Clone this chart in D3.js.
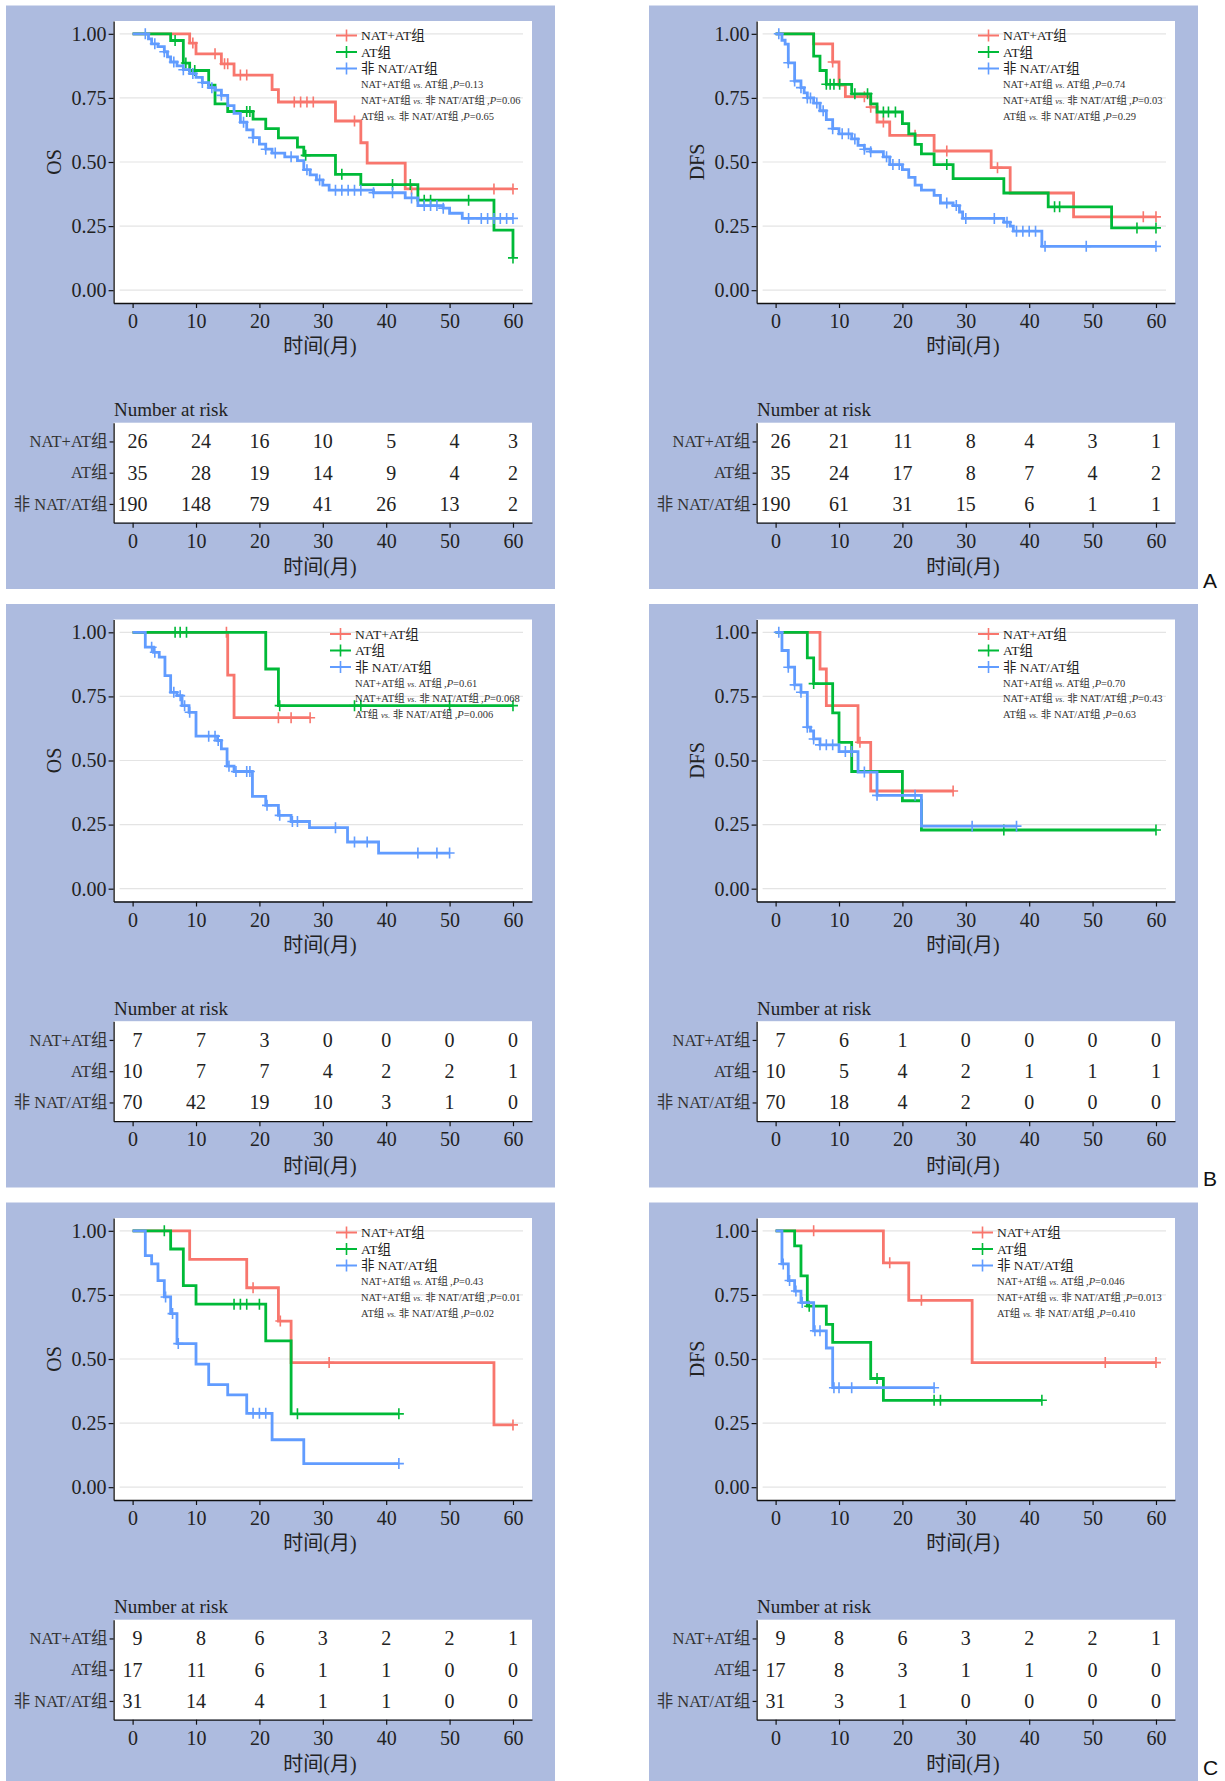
<!DOCTYPE html>
<html>
<head>
<meta charset="utf-8">
<title>OS / DFS Kaplan-Meier curves</title>
<style>
  body{ margin:0; background:#fff; }
  svg text{ font-family:"Liberation Serif","Noto Sans CJK SC",serif; }
</style>
</head>
<body>
<div id="chart"></div>
<script src="https://d3js.org/d3.v7.min.js"></script>
<script>
// ---- shared labels / ticks ----
var groups = ["NAT+AT组", "AT组", "非 NAT/AT组"];
var timeTicks = [0, 10, 20, 30, 40, 50, 60];
var survTicks = [0, 0.25, 0.5, 0.75, 1];
var comparisons = [[0, 1], [0, 2], [1, 2]];
var panelLetters = ["A", "B", "C"];

// ---- A : OS  (steps are [month, survival], cens are censor months) ----
var aOsNat = [[0,1],[9,0.964],[10,0.922],[14,0.883],[16,0.839],[22,0.782],[23,0.734],[32,0.66],[36,0.575],[37,0.496],[43,0.395]];
var aOsNatCens = [9.5,13,14.5,15,17,18,25.5,26.5,27.5,28.5,35,44,57,60];
var aOsAt = [[0,1],[6,0.974],[8,0.886],[9,0.857],[12,0.80],[13,0.727],[15,0.697],[19,0.667],[21,0.63],[23,0.594],[26,0.558],[27,0.526],[32,0.452],[36,0.412],[45,0.351],[57,0.234],[60,0.126]];
var aOsAtCens = [6.7,8.4,9.8,18,18.5,27.3,33,41,43.8,46,47,53,60];
var aOsNon = [[0,1],[2.5,0.98],[3,0.961],[4,0.95],[5,0.93],[5.5,0.91],[6,0.89],[7,0.875],[8,0.86],[9,0.845],[10,0.83],[11,0.81],[12,0.79],[13,0.78],[14,0.76],[15,0.72],[16,0.69],[17,0.655],[18,0.625],[19,0.595],[20,0.57],[21,0.55],[22,0.535],[24,0.52],[26,0.505],[27,0.47],[28,0.45],[29,0.43],[30,0.41],[31,0.39],[38,0.38],[43,0.36],[45,0.33],[49,0.32],[50,0.30],[52,0.28]];
var aOsNonCens = [2,3.5,5,6.5,8,9.5,11,12.5,14,17.5,19,21,22.5,25,27.5,29.5,32,33,34,35,36,38,41,44,46,47,48,49,53,55,56,57,58,59,60];
var aOsRisk = [[26,24,16,10,5,4,3],[35,28,19,14,9,4,2],[190,148,79,41,26,13,2]];
var aOsP = ["0.13", "0.06", "0.65"];

// ---- A : DFS ----
var aDfsNat = [[0,1],[6,0.961],[9,0.89],[10,0.80],[11,0.755],[15,0.714],[16,0.656],[18,0.604],[25,0.543],[34,0.478],[37,0.379],[47,0.286]];
var aDfsNatCens = [9,14,15,17,22,27,35,53,58,60];
var aDfsAt = [[0,1],[6,0.913],[7,0.857],[8,0.803],[12,0.766],[15,0.727],[16,0.695],[20,0.65],[21,0.61],[22,0.569],[23,0.532],[25,0.49],[28,0.435],[36,0.379],[43,0.325],[53,0.243]];
var aDfsAtCens = [8,8.6,9.2,10.1,12.5,14.5,17,17.8,18.9,27,44,44.8,57,60];
var aDfsNon = [[0,1],[1,0.975],[1.5,0.96],[2,0.887],[3,0.816],[4,0.79],[4.5,0.77],[5,0.75],[6,0.73],[7,0.70],[8,0.665],[9,0.63],[10,0.61],[12,0.59],[13,0.565],[14,0.55],[15,0.54],[17,0.52],[18,0.49],[20,0.47],[21,0.44],[22,0.41],[23,0.39],[25,0.37],[26,0.34],[28,0.33],[29,0.305],[29.5,0.28],[36,0.265],[37,0.25],[37.5,0.23],[42,0.171]];
var aDfsNonCens = [0.5,2,3,4,5,5.5,6.5,7.5,9,10.5,11.5,12.5,14,15,17.5,18.5,19.5,27,28.5,30,34.5,36.5,38,39,40,41,42.5,49,60];
var aDfsRisk = [[26,21,11,8,4,3,1],[35,24,17,8,7,4,2],[190,61,31,15,6,1,1]];
var aDfsP = ["0.74", "0.03", "0.29"];

// ---- B : OS ----
var bOsNat = [[0,1],[15,0.833],[16,0.667]];
var bOsNatCens = [14.8,23,25,28];
var bOsAt = [[0,1],[21,0.857],[23,0.714]];
var bOsAtCens = [6.7,7.5,8.5,23.2,35,36,50,60];
var bOsNon = [[0,1],[2,0.942],[3.3,0.922],[4.2,0.903],[5.1,0.831],[6,0.766],[7,0.753],[7.8,0.714],[8.9,0.688],[10,0.595],[13.4,0.578],[14,0.545],[14.9,0.478],[16,0.457],[18.9,0.36],[21,0.325],[23,0.286],[25,0.262],[27.9,0.238],[33.9,0.182],[38.8,0.139]];
var bOsNonCens = [3,3.5,6.5,7.5,8.2,9,12,13,13.5,15.2,16.3,18,18.5,21.2,23.2,25.2,26,32,35,37,45,48,50];
var bOsRisk = [[7,7,3,0,0,0,0],[10,7,7,4,2,2,1],[70,42,19,10,3,1,0]];
var bOsP = ["0.61", "0.068", "0.006"];

// ---- B : DFS ----
var bDfsNat = [[0,1],[7,0.857],[8,0.714],[13,0.571],[15,0.381]];
var bDfsNatCens = [13.3,16,28];
var bDfsAt = [[0,1],[5,0.90],[6,0.80],[9,0.686],[10,0.571],[12,0.457],[20,0.343],[23,0.229]];
var bDfsAtCens = [6,36,60];
var bDfsNon = [[0,1],[1,0.929],[2,0.864],[3,0.795],[4,0.766],[5,0.63],[5.5,0.615],[6,0.584],[7,0.561],[10,0.535],[13,0.455],[16,0.364],[23,0.244]];
var bDfsNonCens = [0.5,2,3,4,5,6,7,8,9,11,12,14,16,22,31,38];
var bDfsRisk = [[7,6,1,0,0,0,0],[10,5,4,2,1,1,1],[70,18,4,2,0,0,0]];
var bDfsP = ["0.70", "0.43", "0.63"];

// ---- C : OS ----
var cOsNat = [[0,1],[9,0.889],[18,0.778],[23,0.648],[25,0.486],[57,0.243]];
var cOsNatCens = [19,23.3,31,60];
var cOsAt = [[0,1],[6,0.929],[8,0.786],[10,0.714],[21,0.571],[25,0.286]];
var cOsAtCens = [5,16,17,18,20,26,42];
var cOsNon = [[0,1],[2,0.903],[3,0.871],[4,0.806],[5,0.742],[6,0.677],[7,0.56],[10,0.48],[12,0.40],[15,0.36],[18,0.288],[22,0.185],[27,0.092]];
var cOsNonCens = [5.2,6.3,7.2,19,20,21,42];
var cOsRisk = [[9,8,6,3,2,2,1],[17,11,6,1,1,0,0],[31,14,4,1,1,0,0]];
var cOsP = ["0.43", "0.01", "0.02"];

// ---- C : DFS ----
var cDfsNat = [[0,1],[17,0.875],[21,0.729],[31,0.486]];
var cDfsNatCens = [6,18,23,52,60];
var cDfsAt = [[0,1],[3,0.941],[4,0.824],[5,0.706],[8,0.635],[9,0.565],[15,0.424],[17,0.339]];
var cDfsAtCens = [5.3,16,25,26,42];
var cDfsNon = [[0,1],[1,0.871],[2,0.806],[3,0.765],[4,0.72],[6,0.61],[8,0.543],[9,0.388]];
var cDfsNonCens = [1.2,2.2,3.2,4.2,6.2,7,9.2,10,12,25];
var cDfsRisk = [[9,8,6,3,2,2,1],[17,8,3,1,1,0,0],[31,3,1,0,0,0,0]];
var cDfsP = ["0.046", "0.013", "0.410"];

var panels = [
  {row:0, col:0, ylab:"OS",  curves:[aOsNat,aOsAt,aOsNon],    cens:[aOsNatCens,aOsAtCens,aOsNonCens],    risk:aOsRisk,  p:aOsP},
  {row:0, col:1, ylab:"DFS", curves:[aDfsNat,aDfsAt,aDfsNon], cens:[aDfsNatCens,aDfsAtCens,aDfsNonCens], risk:aDfsRisk, p:aDfsP},
  {row:1, col:0, ylab:"OS",  curves:[bOsNat,bOsAt,bOsNon],    cens:[bOsNatCens,bOsAtCens,bOsNonCens],    risk:bOsRisk,  p:bOsP},
  {row:1, col:1, ylab:"DFS", curves:[bDfsNat,bDfsAt,bDfsNon], cens:[bDfsNatCens,bDfsAtCens,bDfsNonCens], risk:bDfsRisk, p:bDfsP},
  {row:2, col:0, ylab:"OS",  curves:[cOsNat,cOsAt,cOsNon],    cens:[cOsNatCens,cOsAtCens,cOsNonCens],    risk:cOsRisk,  p:cOsP},
  {row:2, col:1, ylab:"DFS", curves:[cDfsNat,cDfsAt,cDfsNon], cens:[cDfsNatCens,cDfsAtCens,cDfsNonCens], risk:cDfsRisk, p:cDfsP}
];

// ---- layout ----
var colors = ["#F8766D", "#00BA38", "#619CFF"];
var bgColor = "#adbbdf";
var rowY = [0, 598.5, 1197];
var colX = [0, 643];
var letterY = [588, 1186, 1775];
var legendX = [336, 335, 330, 335, 336, 329];
var plotL = 113.6, plotR = 532, plotT = 21, plotB = 303;
var tabT = 422.7, tabB = 522.7;
var FONT = '"Liberation Serif","Noto Sans CJK SC",serif';

var svg = d3.select("#chart").append("svg")
    .attr("width", 1225)
    .attr("height", 1781);

function survAt(steps, t){
  var s = 1;
  steps.forEach(function(d){ if(d[0] <= t) s = d[1]; });
  return s;
}

function styleAxis(ax, size){
  ax.attr("font-family", FONT);
  ax.select(".domain").attr("stroke", "#111").attr("stroke-width", 1.3);
  ax.selectAll(".tick line").attr("stroke", "#111").attr("stroke-width", 1.2);
  ax.selectAll(".tick text").attr("fill", "#222").style("font-size", size + "px");
}

panels.forEach(function(p, i){
  var g = svg.append("g")
      .attr("transform", "translate(" + colX[p.col] + "," + rowY[p.row] + ")");

  g.append("rect").attr("x", 6).attr("y", 5.5).attr("width", 549).attr("height", 583.5)
      .attr("fill", bgColor);
  g.append("rect").attr("x", plotL).attr("y", plotT).attr("width", plotR - plotL).attr("height", plotB - plotT)
      .attr("fill", "#fff");

  var x = d3.scaleLinear().domain([-3, 63]).range([plotL, plotR]);
  var y = d3.scaleLinear().domain([-0.05, 1.05]).range([plotB, plotT]);

  // grid
  g.selectAll(".grid").data(survTicks).enter().append("line")
      .attr("x1", plotL + 6).attr("x2", plotR - 9)
      .attr("y1", function(d){ return y(d); })
      .attr("y2", function(d){ return y(d); })
      .attr("stroke", "#e4e4e4").attr("stroke-width", 1.2);

  // curves
  var line = d3.line()
      .x(function(d){ return x(d[0]); })
      .y(function(d){ return y(d[1]); })
      .curve(d3.curveStepAfter);

  p.curves.forEach(function(steps, k){
    var last = steps[steps.length - 1];
    var tEnd = Math.max(last[0], d3.max(p.cens[k]));
    var pts = steps.concat([[tEnd, last[1]]]);
    g.append("path").attr("d", line(pts))
        .attr("fill", "none").attr("stroke", colors[k]).attr("stroke-width", 2.8);
    g.selectAll(".cens" + k).data(p.cens[k]).enter().append("path")
        .attr("d", function(t){
          var cx = x(t), cy = y(survAt(steps, t));
          return "M" + (cx - 5) + "," + cy + "h10M" + cx + "," + (cy - 5.5) + "v11";
        })
        .attr("stroke", colors[k]).attr("stroke-width", 1.6);
  });

  // axes
  var xa = g.append("g").attr("transform", "translate(0," + plotB + ")")
      .call(d3.axisBottom(x).tickValues(timeTicks).tickSize(5).tickPadding(6).tickSizeOuter(0));
  styleAxis(xa, 20);
  var ya = g.append("g").attr("transform", "translate(" + plotL + ",0)")
      .call(d3.axisLeft(y).tickValues(survTicks).tickFormat(d3.format(".2f")).tickSize(5).tickPadding(2).tickSizeOuter(0));
  styleAxis(ya, 20);

  g.append("text").attr("x", 320).attr("y", 353).attr("text-anchor", "middle")
      .style("font-size", "20px").attr("fill", "#222").text("时间(月)");
  g.append("text").attr("transform", "translate(61," + (plotT + plotB) / 2 + ") rotate(-90)")
      .attr("text-anchor", "middle").style("font-size", "20px").attr("fill", "#222").text(p.ylab);

  // legend
  var lx = legendX[i];
  var legY = [35.5, 52, 68.5];
  groups.forEach(function(name, k){
    g.append("line").attr("x1", lx).attr("x2", lx + 21).attr("y1", legY[k]).attr("y2", legY[k])
        .attr("stroke", colors[k]).attr("stroke-width", 2);
    g.append("line").attr("x1", lx + 10.5).attr("x2", lx + 10.5).attr("y1", legY[k] - 6).attr("y2", legY[k] + 6)
        .attr("stroke", colors[k]).attr("stroke-width", 1.6);
    g.append("text").attr("x", lx + 25).attr("y", legY[k]).attr("dy", "0.36em")
        .style("font-size", "13.5px").attr("fill", "#222").text(name);
  });
  var pY = [84.3, 100, 116];
  comparisons.forEach(function(c, k){
    var t = g.append("text").attr("x", lx + 25).attr("y", pY[k]).attr("dy", "0.36em")
        .style("font-size", "10.5px").attr("fill", "#333");
    t.append("tspan").text(groups[c[0]] + " ");
    t.append("tspan").style("font-style", "italic").style("font-size", "8.5px").text("vs.");
    t.append("tspan").text(" " + groups[c[1]] + "\u2009,");
    t.append("tspan").style("font-style", "italic").text("P");
    t.append("tspan").text("=" + p.p[k]);
  });

  // risk table
  g.append("text").attr("x", 114).attr("y", 416).style("font-size", "19px").attr("fill", "#222")
      .text("Number at risk");
  g.append("rect").attr("x", plotL).attr("y", tabT).attr("width", plotR - plotL).attr("height", tabB - tabT)
      .attr("fill", "#fff");
  var ry = d3.scalePoint().domain(groups).range([tabT, tabB]).padding(0.6);
  var rya = g.append("g").attr("transform", "translate(" + plotL + ",0)")
      .call(d3.axisLeft(ry).tickSize(4).tickPadding(2).tickSizeOuter(0));
  styleAxis(rya, 16.5);
  rya.selectAll(".tick text").attr("fill", "#333");
  var rxa = g.append("g").attr("transform", "translate(0," + tabB + ")")
      .call(d3.axisBottom(x).tickValues(timeTicks).tickSize(5).tickPadding(6).tickSizeOuter(0));
  styleAxis(rxa, 20);
  g.append("text").attr("x", 320).attr("y", 574).attr("text-anchor", "middle")
      .style("font-size", "20px").attr("fill", "#222").text("时间(月)");

  // numbers: each column is padded to its widest entry, then centred on the tick
  timeTicks.forEach(function(t, j){
    var col = p.risk.map(function(r){ return r[j]; });
    var maxLen = d3.max(col, function(v){ return String(v).length; });
    col.forEach(function(v, k){
      g.append("text")
          .attr("x", x(t) + maxLen * 5)
          .attr("y", ry(groups[k]) + 7)
          .attr("text-anchor", "end")
          .style("font-size", "20px").attr("fill", "#222")
          .text(v);
    });
  });
});

panelLetters.forEach(function(l, r){
  svg.append("text").attr("x", 1203).attr("y", letterY[r])
      .style("font-family", '"Liberation Sans", Arial, sans-serif')
      .style("font-size", "21px").attr("fill", "#111").text(l);
});
</script>
</body>
</html>
